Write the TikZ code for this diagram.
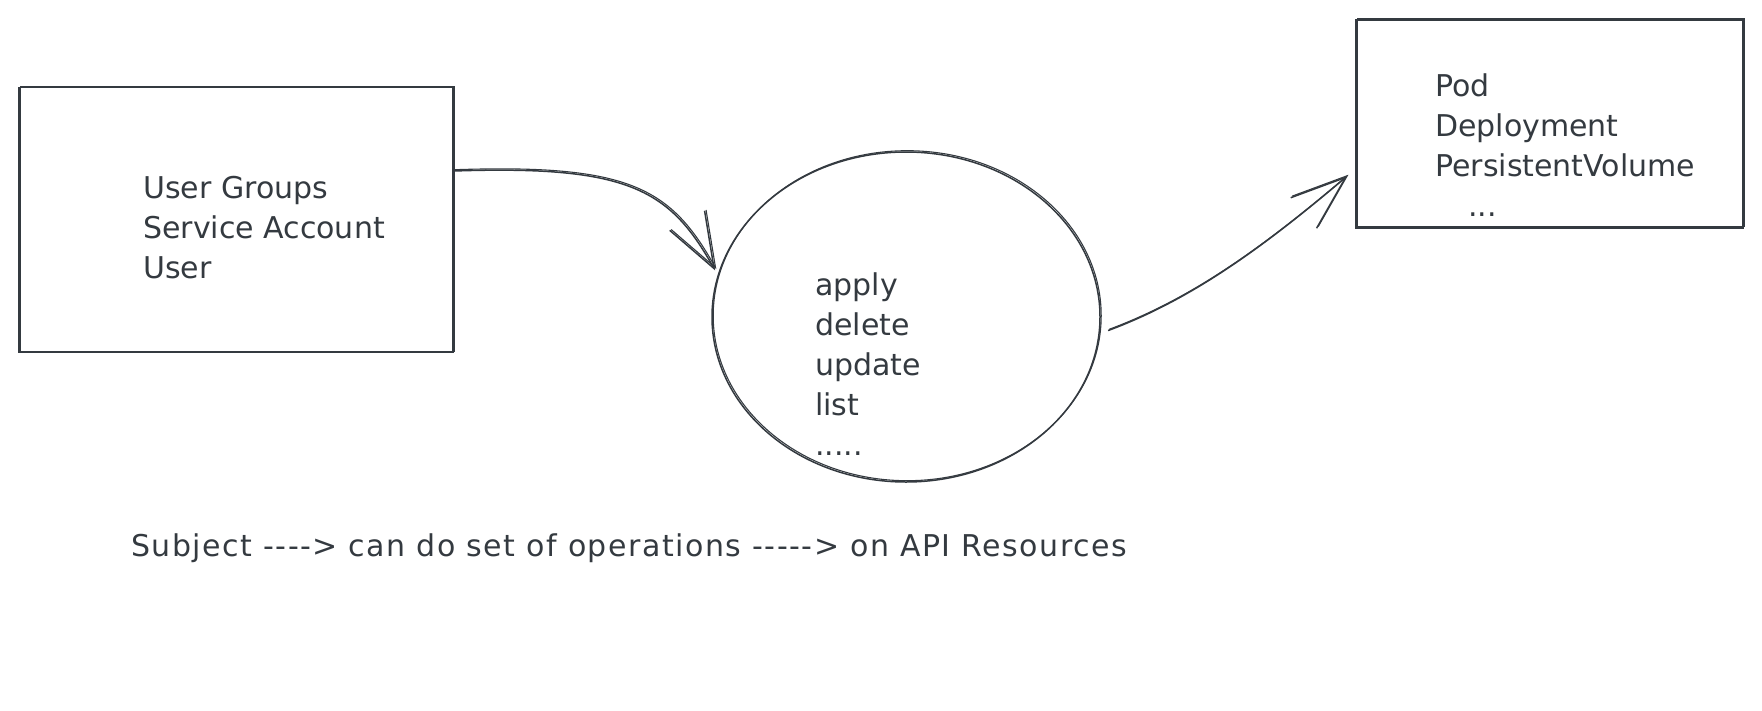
\documentclass[tikz,border=0pt]{standalone}
\usepackage{fontspec}
\setmainfont{DejaVu Sans}[Ligatures=TeXOff]
\usetikzlibrary{shapes.geometric, arrows.meta, positioning, calc}
\definecolor{inkgray}{RGB}{52,58,64}

\tikzset{
  sketch/.style={draw=inkgray, line width=1.5pt,
    preaction={draw=inkgray, line width=1.1pt, transform canvas={shift={(1.2pt,1.3pt)}}}},
  box/.style={sketch, rectangle, inner sep=0pt},
  label/.style={text=inkgray, font=\fontsize{30}{40}\selectfont, align=left, inner sep=0pt, anchor=north west},
  flow/.style={sketch, -{Straight Barb[length=55pt, width=40pt]}},
}

\begin{document}
\begin{tikzpicture}[x=1pt, y=-1pt]
  \useasboundingbox (0,0) rectangle (1762,710);

  % subjects
  \node[box, minimum width=434pt, minimum height=265pt] (subj) at (236,220) {};
  \node[label] (subjtxt) at (143,176) {User Groups\\Service Account\\User};

  % operations
  \node[sketch, ellipse, minimum width=388pt, minimum height=330pt, inner sep=0pt] (ops) at (906,317) {};
  \node[label] (opstxt) at (815,272) {apply\\delete\\update\\list\\.....};

  % api resources
  \node[box, minimum width=387pt, minimum height=208pt] (res) at (1549.5,124) {};
  \node[label] (restxt) at (1435,74) {Pod\\Deployment\\PersistentVolume\\\hspace*{33pt}...};

  % caption
  \node[label, anchor=west] (caption) at (131,548) {\addfontfeatures{LetterSpace=5}Subject ----> can do set of operations -----> on API Resources};

  % arrows
  \draw[flow] ([yshift=49pt]subj.east) .. controls (630,165) and (670,190) .. ([xshift=-4pt]ops.166);
  \draw[flow] ([xshift=8pt]ops.-4) .. controls (1190,300) and (1260,250) .. ([xshift=-8pt, yshift=-52pt]res.west);
\end{tikzpicture}
\end{document}
